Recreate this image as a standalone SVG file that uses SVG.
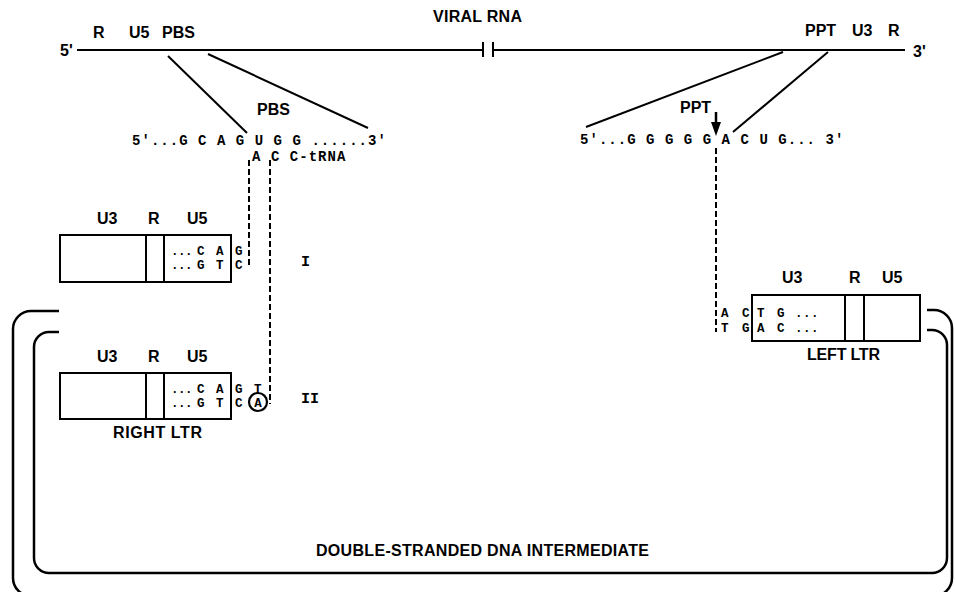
<svg xmlns="http://www.w3.org/2000/svg" width="955" height="592" viewBox="0 0 955 592">
<defs>
<style>
.lb{font-family:"Liberation Sans",Arial,sans-serif;font-weight:bold;font-size:16px;fill:#000}
.sq{font-family:"Liberation Mono","Courier New",monospace;font-weight:bold;font-size:14px;letter-spacing:1.04px;fill:#000}
.bx{font-family:"Liberation Mono","Courier New",monospace;font-weight:bold;font-size:12.5px;fill:#000}
.rn{font-family:"Liberation Mono","Courier New",monospace;font-weight:bold;font-size:15px;fill:#000}
.ln{stroke:#000;stroke-width:2;fill:none}
.dash{stroke:#000;stroke-width:2;fill:none;stroke-dasharray:6 3}
.box{stroke:#000;stroke-width:2;fill:#fff}
.br{stroke:#000;stroke-width:2.5;fill:none}
</style>
</defs>
<rect width="955" height="592" fill="#fff"/>

<g id="viral-rna">
<text class="lb" x="433" y="22" textLength="89">VIRAL RNA</text>
<text class="lb" x="60" y="56">5'</text>
<text class="lb" x="93" y="38">R</text>
<text class="lb" x="129" y="38">U5</text>
<text class="lb" x="162" y="38">PBS</text>
<text class="lb" x="805" y="36">PPT</text>
<text class="lb" x="852" y="36">U3</text>
<text class="lb" x="888" y="36">R</text>
<text class="lb" x="913" y="57">3'</text>
<path class="ln" d="M77 50H483M493 50H905"/>
<path class="ln" d="M483 42V57M493 42V57"/>
</g>

<g id="pbs-seq">
<text class="lb" x="257" y="115">PBS</text>
<text class="sq" x="132" y="145">5'...G C A G U G G ......3'</text>
<text class="sq" x="252" y="161">A C C-tRNA</text>
</g>

<g id="ppt-seq">
<text class="lb" x="680" y="113">PPT</text>
<text class="sq" x="580" y="144">5'...G G G G G A C U G... 3'</text>
</g>

<g id="ltr-I">
<text class="lb" x="97" y="224">U3</text>
<text class="lb" x="148" y="224">R</text>
<text class="lb" x="187" y="224">U5</text>
<rect class="box" x="60" y="235" width="171" height="47"/>
<path class="ln" d="M146 235V282M164 235V282"/>
<text class="bx" x="171 178 185 197 216 235" y="255">...CAG</text>
<text class="bx" x="171 178 185 197 216 235" y="269">...GTC</text>
<text class="rn" x="301" y="266">I</text>
</g>

<g id="ltr-II">
<text class="lb" x="97" y="362">U3</text>
<text class="lb" x="148" y="362">R</text>
<text class="lb" x="187" y="362">U5</text>
<rect class="box" x="60" y="373" width="171" height="46"/>
<path class="ln" d="M146 373V419M164 373V419"/>
<text class="bx" x="171 178 185 197 216 235 254" y="393">...CAGT</text>
<text class="bx" x="171 178 185 197 216 235" y="407">...GTC</text>
<circle cx="258" cy="402" r="9" fill="#fff" stroke="#000" stroke-width="2.2"/>
<text class="bx" x="258" y="406.5" text-anchor="middle" font-size="12">A</text>
<text class="rn" x="301" y="403">II</text>
<text class="lb" x="113" y="438" textLength="89">RIGHT LTR</text>
</g>

<g id="left-ltr">
<text class="lb" x="782" y="283">U3</text>
<text class="lb" x="849" y="283">R</text>
<text class="lb" x="882" y="283">U5</text>
<rect class="box" x="752" y="295" width="168" height="46"/>
<path class="ln" d="M845 295V341M864 295V341"/>
<text class="bx" x="721 742 757 777 795 803 811" y="317">ACTG...</text>
<text class="bx" x="721 742 757 777 795 803 811" y="332">TGAC...</text>
<text class="lb" x="807" y="360" textLength="73">LEFT LTR</text>
</g>

<g id="ds-dna">
<path class="br" d="M59 311H31A18 18 0 0 0 13 329V578A18 18 0 0 0 31 596H934A18 18 0 0 0 952 578V328A18 18 0 0 0 934 310H927"/>
<path class="br" d="M59 332H49A15 15 0 0 0 34 347V558A15 15 0 0 0 49 573H932A15 15 0 0 0 947 558V345A15 15 0 0 0 932 330H927"/>
<text class="lb" x="316" y="556" textLength="333">DOUBLE-STRANDED DNA INTERMEDIATE</text>
</g>

<g id="connectors">
<path class="ln" d="M168 56L247 133M208 54L368 128"/>
<path class="ln" d="M783 52L586 127M828 52L733 132"/>
<path d="M716 112V124" stroke="#000" stroke-width="2.5"/>
<polygon points="711,122 721,122 716,136" fill="#000"/>
<path class="dash" d="M716 148V332"/>
<path class="dash" d="M249 160V268"/>
<path class="dash" d="M270 160V404"/>
</g>
</svg>
